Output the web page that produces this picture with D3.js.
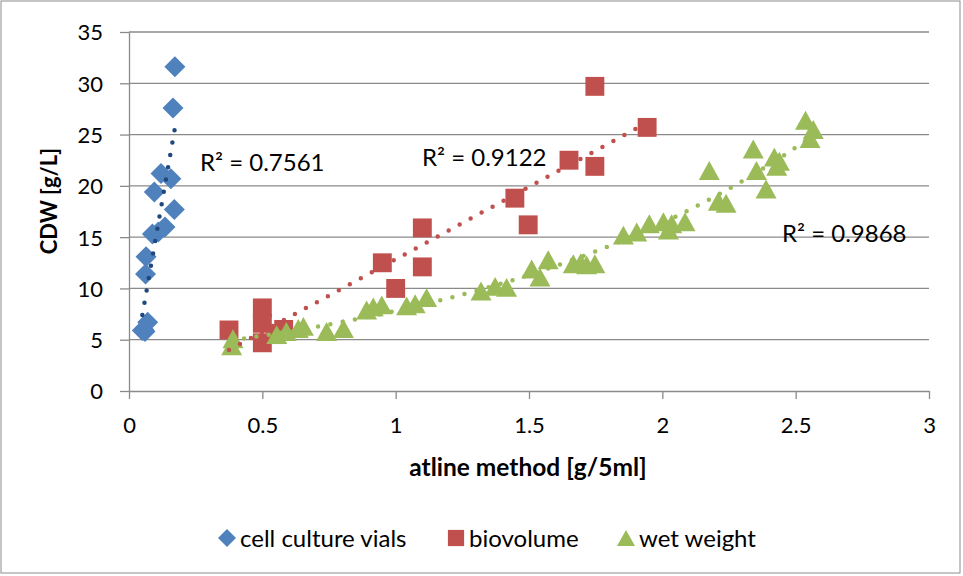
<!DOCTYPE html>
<html><head><meta charset="utf-8">
<script src="https://cdn.jsdelivr.net/npm/d3@7"></script>
<style>
body{margin:0;background:#fff}
svg{display:block}
text{font-family:Lato,"Open Sans",sans-serif;fill:#000}
</style>
</head><body>
<svg id="chart" width="963" height="576"></svg>
<script>
// ---------- data ----------
const seriesNames = ["cell culture vials", "biovolume", "wet weight"];
const r2Labels = ["R\u00B2 = 0.7561", "R\u00B2 = 0.9122", "R\u00B2 = 0.9868"];
const xTicks = [0, 0.5, 1, 1.5, 2, 2.5, 3];
const yTicks = [0, 5, 10, 15, 20, 25, 30, 35];

const vialsX = [0.172, 0.165, 0.120, 0.157, 0.095, 0.170, 0.135, 0.110, 0.088, 0.064, 0.062, 0.070, 0.055, 0.060, 0.050];
const vialsY = [31.6, 27.6, 21.2, 20.7, 19.4, 17.7, 16.0, 15.5, 15.3, 13.1, 11.4, 6.7, 6.0, 5.8, 5.9];

const bioX = [1.747, 1.943, 1.650, 1.747, 1.447, 1.497, 1.100, 0.950, 1.100, 1.000, 0.500, 0.500, 0.500, 0.375, 0.580, 0.550];
const bioY = [29.7, 25.7, 22.5, 21.9, 18.8, 16.2, 15.9, 12.5, 12.1, 10.0, 8.1, 6.6, 4.7, 5.95, 6.0, 5.5];

const wetX = [0.390, 0.385, 0.554, 0.590, 0.635, 0.654, 0.741, 0.804, 0.891, 0.916, 0.948, 1.041, 1.073, 1.116,
              1.320, 1.373, 1.416, 1.510, 1.541, 1.572, 1.666, 1.694, 1.716, 1.747, 1.854, 1.904, 1.951, 2.004,
              2.035, 2.023, 2.085, 2.176, 2.210, 2.239, 2.341, 2.353, 2.389, 2.420, 2.439, 2.429, 2.537, 2.566, 2.554];
const wetY = [5.1, 4.4, 5.5, 5.8, 6.1, 6.3, 5.8, 6.1, 7.9, 8.2, 8.4, 8.3, 8.5, 9.1,
              9.75, 10.2, 10.1, 11.9, 11.1, 12.8, 12.4, 12.5, 12.3, 12.4, 15.2, 15.5, 16.3, 16.5,
              16.3, 15.7, 16.5, 21.5, 18.5, 18.3, 23.6, 21.5, 19.7, 22.8, 22.4, 21.9, 26.4, 25.5, 24.6];

// ---------- styles ----------
const colors = ["#4F81BD", "#C0504D", "#9BBB59"];
const trendColors = ["#1F497D", "#C0504D", "#9BBB59"];
const gridColor = "#8A8A8A";

const svg = d3.select("#chart");
const plot = {left: 129, right: 929, top: 32, bottom: 391};

// outer border
svg.append("rect").attr("x", 1).attr("y", 1).attr("width", 959).attr("height", 572)
  .attr("fill", "#fff").attr("stroke", "#8C8C8C").attr("stroke-width", 1);

const x = d3.scaleLinear().domain([0, 3]).range([plot.left, plot.right]);
const y = d3.scaleLinear().domain([0, 35]).range([plot.bottom, plot.top]);

// gridlines
svg.append("g").selectAll("line").data(yTicks.filter(d => d > 0)).join("line")
  .attr("x1", plot.left).attr("x2", plot.right)
  .attr("y1", d => y(d)).attr("y2", d => y(d))
  .attr("stroke", gridColor).attr("stroke-width", 1.3);

// axes
const yAxis = svg.append("g").attr("transform", `translate(${plot.left},0)`)
  .call(d3.axisLeft(y).tickValues(yTicks).tickSizeInner(9).tickSizeOuter(0).tickFormat(d3.format("d")));
const xAxis = svg.append("g").attr("transform", `translate(0,${plot.bottom})`)
  .call(d3.axisBottom(x).tickValues(xTicks).tickSizeInner(8).tickSizeOuter(0).tickFormat(d => String(d)));
[yAxis, xAxis].forEach(a => {
  a.select(".domain").attr("stroke", gridColor).attr("stroke-width", 1.3);
  a.selectAll(".tick line").attr("stroke", gridColor).attr("stroke-width", 1.3);
  a.selectAll("text").attr("font-family", "Lato").attr("font-size", 22).attr("fill", "#000");
});
yAxis.selectAll("text").attr("x", -26).attr("dy", "0.36em");
xAxis.selectAll("text").attr("y", 34.5).attr("dy", "0.36em");

// axis titles
svg.append("text").attr("x", 528).attr("y", 467).attr("dy", "0.36em")
  .attr("text-anchor", "middle").attr("font-weight", "bold").attr("font-size", 24.5)
  .text("atline method [g/5ml]");
svg.append("text").attr("transform", "translate(49,201) rotate(-90)").attr("dy", "0.36em")
  .attr("text-anchor", "middle").attr("font-weight", "bold").attr("font-size", 22)
  .text("CDW [g/L]");

// marker shapes
const shapes = [
  r => `M0,${-r}L${r},0L0,${r}L${-r},0Z`,
  r => `M${-r * 0.9},${-r * 0.9}H${r * 0.9}V${r * 0.9}H${-r * 0.9}Z`,
  r => `M0,${-r * 0.9}L${r},${r * 0.9}L${-r},${r * 0.9}Z`
];

const series = [
  {xs: vialsX, ys: vialsY, fit: "linear"},
  {xs: bioX, ys: bioY, fit: "linear"},
  {xs: wetX, ys: wetY, fit: "exp"}
];

// markers
series.forEach((s, i) => {
  svg.append("g").selectAll("path").data(s.xs.map((v, j) => [v, s.ys[j]])).join("path")
    .attr("transform", d => `translate(${x(d[0])},${y(d[1])})`)
    .attr("d", shapes[i](10.5))
    .attr("fill", colors[i]);
});

// trendlines (least squares fits of the data)
function fitFn(xs, ys, type) {
  const n = xs.length;
  const Y = type === "exp" ? ys.map(Math.log) : ys;
  const mx = d3.mean(xs), my = d3.mean(Y);
  let sxy = 0, sxx = 0;
  for (let i = 0; i < n; i++) { sxy += (xs[i] - mx) * (Y[i] - my); sxx += (xs[i] - mx) ** 2; }
  const b = sxy / sxx, a = my - b * mx;
  return type === "exp" ? (t => Math.exp(a + b * t)) : (t => a + b * t);
}
series.forEach((s, i) => {
  const f = fitFn(s.xs, s.ys, s.fit);
  const [x0, x1] = d3.extent(s.xs);
  const pts = d3.range(0, 101).map(k => { const t = x0 + (x1 - x0) * k / 100; return [t, f(t)]; });
  svg.append("path").datum(pts)
    .attr("d", d3.line().x(d => x(d[0])).y(d => y(d[1])))
    .attr("fill", "none").attr("stroke", trendColors[i]).attr("stroke-width", 4.5)
    .attr("stroke-linecap", "round").attr("stroke-dasharray", "0 12.5");
});

// R² labels
const r2Pos = [[200, 162], [422, 157], [782, 233]];
r2Labels.forEach((t, i) => {
  svg.append("text").attr("x", r2Pos[i][0]).attr("y", r2Pos[i][1]).attr("dy", "0.36em")
    .attr("font-size", 24).text(t);
});

// legend
const legendY = 538;
const legendX = [227, 456, 626];
seriesNames.forEach((name, i) => {
  const g = svg.append("g").attr("transform", `translate(${legendX[i]},${legendY})`);
  g.append("path").attr("d", shapes[i](9)).attr("fill", colors[i]);
  g.append("text").attr("x", 13).attr("dy", "0.36em").attr("font-size", 24).text(name);
});
</script>
</body></html>
